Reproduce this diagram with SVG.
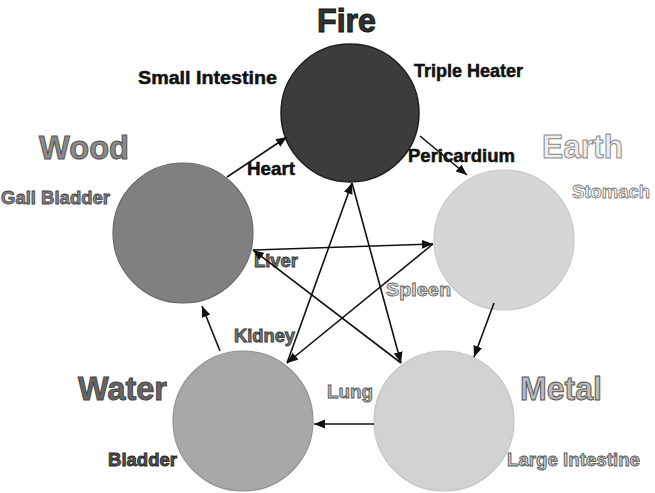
<svg xmlns="http://www.w3.org/2000/svg" width="655" height="493" viewBox="0 0 655 493">
<style>
text{font-family:"Liberation Sans",Arial,sans-serif;font-weight:bold}
.big{font-size:33px}
.org{font-size:18px}
.blk{fill:#111;stroke:#111;stroke-width:0.5}
.ln{stroke:#111;stroke-width:1.6;fill:none;marker-end:url(#ah)}
</style>
<defs>
<marker id="ah" markerUnits="userSpaceOnUse" markerWidth="12" markerHeight="10" refX="11" refY="4.5" orient="auto">
<path d="M0,0 L11,4.5 L0,9 Z" fill="#111"/>
</marker>
</defs>
<rect width="655" height="493" fill="#fff"/>
<g id="fire">
<circle cx="350" cy="113" r="69" fill="#3c3c3c" stroke="#1e1e1e" stroke-width="1.5"/>
<text class="big" x="317" y="32" textLength="59" lengthAdjust="spacingAndGlyphs" fill="#333" stroke="#111" stroke-width="1">Fire</text>
<text class="org blk" x="138" y="84" textLength="139" lengthAdjust="spacingAndGlyphs">Small Intestine</text>
<text class="org blk" x="414" y="77" textLength="109" lengthAdjust="spacingAndGlyphs">Triple Heater</text>
<text class="org blk" x="247" y="175" textLength="48" lengthAdjust="spacingAndGlyphs">Heart</text>
<text class="org blk" x="408" y="162" textLength="107" lengthAdjust="spacingAndGlyphs">Pericardium</text>
</g>
<g id="wood">
<circle cx="183" cy="233" r="70" fill="#808080" stroke="#6a6a6a" stroke-width="1.2"/>
<text class="big" x="39" y="159" textLength="90" lengthAdjust="spacingAndGlyphs" fill="#8a8a8a" stroke="#555" stroke-width="1">Wood</text>
<text class="org" x="1" y="204" textLength="109" lengthAdjust="spacingAndGlyphs" fill="#888" stroke="#444" stroke-width="0.8">Gall Bladder</text>
<text class="org" x="254" y="267" textLength="44" lengthAdjust="spacingAndGlyphs" fill="#7a7a7a" stroke="#333" stroke-width="0.8">Liver</text>
</g>
<g id="earth">
<circle cx="504" cy="240" r="70" fill="#d6d6d6" stroke="#c8c8c8" stroke-width="1.2"/>
<text class="big" x="542" y="158" textLength="81" lengthAdjust="spacingAndGlyphs" fill="#eeeeee" stroke="#888" stroke-width="1">Earth</text>
<text class="org" x="572" y="198" textLength="78" lengthAdjust="spacingAndGlyphs" fill="#f8f8f8" stroke="#777" stroke-width="0.8">Stomach</text>
<text class="org" x="386" y="296" textLength="65" lengthAdjust="spacingAndGlyphs" fill="#dddddd" stroke="#666" stroke-width="0.8">Spleen</text>
</g>
<g id="water">
<circle cx="243" cy="421" r="70" fill="#a8a8a8" stroke="#929292" stroke-width="1.2"/>
<text class="big" x="78" y="400" textLength="89" lengthAdjust="spacingAndGlyphs" fill="#666" stroke="#444" stroke-width="1">Water</text>
<text class="org" x="234" y="342" textLength="61" lengthAdjust="spacingAndGlyphs" fill="#777" stroke="#333" stroke-width="0.8">Kidney</text>
<text class="org" x="108" y="466" textLength="69" lengthAdjust="spacingAndGlyphs" fill="#555" stroke="#222" stroke-width="0.8">Bladder</text>
</g>
<g id="metal">
<circle cx="444" cy="421" r="70" fill="#d2d2d2" stroke="#c4c4c4" stroke-width="1.2"/>
<text class="big" x="520" y="400" textLength="82" lengthAdjust="spacingAndGlyphs" fill="#bbbbbb" stroke="#555" stroke-width="1">Metal</text>
<text class="org" x="327" y="398" textLength="46" lengthAdjust="spacingAndGlyphs" fill="#bbbbbb" stroke="#555" stroke-width="0.8">Lung</text>
<text class="org" x="507" y="466" textLength="133" lengthAdjust="spacingAndGlyphs" fill="#cccccc" stroke="#555" stroke-width="0.8">Large Intestine</text>
</g>
<g id="connectors">
<line class="ln" x1="227" y1="177" x2="287" y2="137"/>
<line class="ln" x1="420" y1="136" x2="467" y2="175"/>
<line class="ln" x1="494" y1="303" x2="474" y2="357"/>
<line class="ln" x1="374" y1="424" x2="314" y2="424"/>
<line class="ln" x1="220" y1="351" x2="202" y2="306"/>
<line class="ln" x1="253" y1="250" x2="433" y2="244"/>
<line class="ln" x1="433" y1="244" x2="287" y2="363"/>
<line class="ln" x1="287" y1="363" x2="352" y2="183"/>
<line class="ln" x1="352" y1="183" x2="401" y2="363"/>
<line class="ln" x1="401" y1="363" x2="253" y2="250"/>
</g>
</svg>
